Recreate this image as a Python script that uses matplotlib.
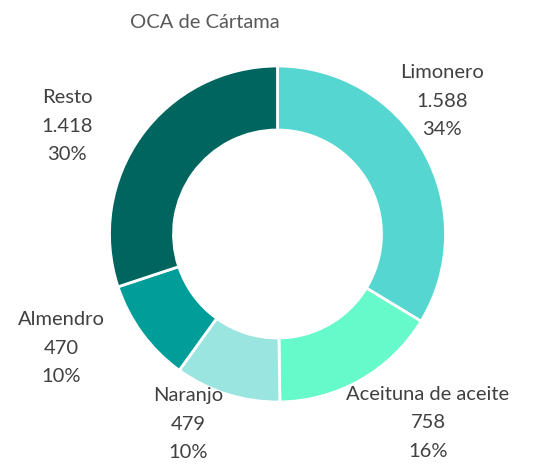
import matplotlib.pyplot as plt

# Datos
cultivos = ["Limonero", "Aceituna de aceite", "Naranjo", "Almendro", "Resto"]
superficie = [1588, 758, 479, 470, 1418]
colores = ["#55d6d0", "#66f9c9", "#9be5e1", "#009d99", "#00655f"]

# posicion del centro de cada etiqueta (pixeles, origen arriba a la izquierda)
pos_etiquetas = [(442, 101), (428, 423), (188, 424), (61, 348), (67, 126)]

W, H = 547, 474
fig = plt.figure(figsize=(W / 100, H / 100), dpi=100)
ax = fig.add_axes([0, 0, 1, 1])

ax.pie(superficie, colors=colores, startangle=90, counterclock=False,
       center=(277.5, H - 234), radius=168,
       wedgeprops=dict(width=64, edgecolor="white", linewidth=2))

# pie() cambia los limites, se fijan despues
ax.set_xlim(0, W)
ax.set_ylim(0, H)
ax.set_aspect("equal")
ax.axis("off")

total = sum(superficie)
for nombre, valor, (x, y) in zip(cultivos, superficie, pos_etiquetas):
    valor_txt = f"{valor:,}".replace(",", ".")
    pct = round(valor / total * 100)
    ax.text(x, H - y, f"{nombre}\n{valor_txt}\n{pct}%", ha="center", va="center",
            fontsize=14.5, color="#404040", family="Lato", linespacing=1.85)

ax.text(205, H - 22, "OCA de Cártama", ha="center", va="center",
        fontsize=14.5, color="#595959", family="Lato")

fig.savefig("out.png", dpi=100, facecolor="white")
